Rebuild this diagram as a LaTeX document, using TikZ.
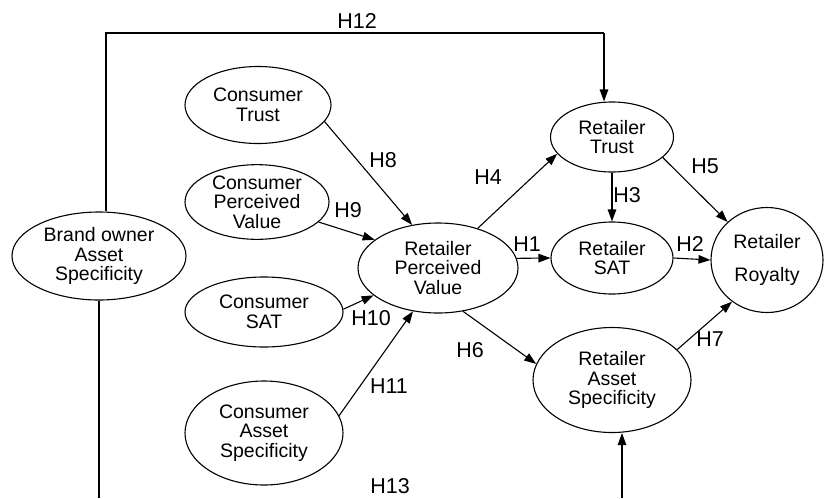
\documentclass[tikz,border=0pt]{standalone}
\usepackage{fontspec}
\setmainfont{Liberation Sans}
\usetikzlibrary{shapes.geometric,arrows.meta}
\tikzset{
  latent/.style={draw, ellipse, inner sep=0pt, line width=1.1pt, align=center,
    font=\fontsize{19.5}{19.5}\selectfont},
  hyp/.style={font=\fontsize{21.5}{22}\selectfont, inner sep=0pt},
  link/.style={line width=1.1pt, -{Triangle[length=12pt,width=8.5pt]}},
  plain/.style={line width=1.1pt}
}
\begin{document}
\begin{tikzpicture}[x=1pt,y=-1pt]
\useasboundingbox (0,0) rectangle (824,498);
% nodes
\node[latent, minimum width=174pt, minimum height=88pt] (bo) at (99,256) {Brand owner\\Asset\\Specificity};
\node[latent, minimum width=146pt, minimum height=77pt] (ct) at (258,105) {Consumer\\Trust};
\node[latent, minimum width=144pt, minimum height=61pt] (cpv) at (257,202) {Consumer\\Perceived\\Value};
\node[latent, minimum width=158pt, minimum height=70pt] (cs) at (264,312) {Consumer\\SAT};
\node[latent, minimum width=158pt, minimum height=104pt] (cas) at (264,433) {Consumer\\Asset\\Specificity};
\node[latent, minimum width=160pt, minimum height=90pt] (rpv) at (438,268) {Retailer\\Perceived\\Value};
\node[latent, minimum width=123pt, minimum height=70pt] (rt) at (612,137) {Retailer\\Trust};
\node[latent, minimum width=122pt, minimum height=72pt] (rs) at (612,258) {Retailer\\SAT};
\node[latent, minimum width=112pt, minimum height=105pt] (roy) at (767,260) {Retailer\\[14pt]Royalty};
\node[latent, minimum width=158pt, minimum height=105pt] (ras) at (612,380) {Retailer\\Asset\\Specificity};
% labels
\node[hyp] (h12) at (357,21) {H12};
\node[hyp] (h8) at (383,160) {H8};
\node[hyp] (h9) at (348,210) {H9};
\node[hyp] (h10) at (371,318) {H10};
\node[hyp] (h11) at (389,386) {H11};
\node[hyp] (h4) at (488,177) {H4};
\node[hyp] (h1) at (527,244) {H1};
\node[hyp] (h3) at (627,195) {H3};
\node[hyp] (h5) at (705,166) {H5};
\node[hyp] (h2) at (690,244) {H2};
\node[hyp] (h6) at (470,350) {H6};
\node[hyp] (h7) at (710,339) {H7};
\node[hyp] (h13) at (390,486) {H13};
% helper coordinates
\coordinate (t1) at (106,33);
\coordinate (t2) at (604,33);
\coordinate (b1) at (99,498);
\coordinate (b2) at (622,498);
% connectors
\draw[link] (ct.-14) -- (rpv.121);
\draw[link] (cpv.-18) -- (rpv.156);
\draw[link] (cs.2) -- (rpv.203);
\draw[link] (cas.13) -- (rpv.240);
\draw[link] (rpv.45) -- (rt.197);
\draw[link] (rpv.7) -- (rs.180);
\draw[link] (rt.south) -- (rs.north);
\draw[link] (rt.-22) -- (roy.136);
\draw[link] (rs.east) -- (roy.180);
\draw[link] (rpv.-60) -- (ras.168);
\draw[link] (ras.25) -- (roy.230);
\draw[plain] (t1 |- bo.north) -- (t1) -- (t2);
\draw[link] (t2) -- (t2 |- rt.north);
\draw[plain] (bo.south) -- (b1);
\draw[link] (b2) -- (b2 |- ras.south);
\end{tikzpicture}
\end{document}
